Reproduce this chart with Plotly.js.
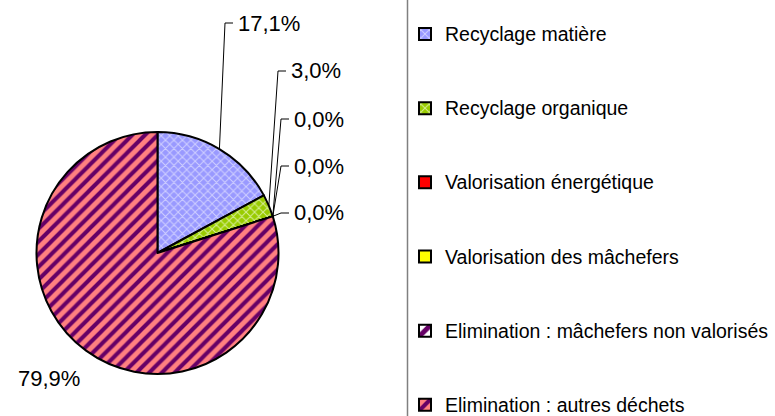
<!DOCTYPE html>
<html><head><meta charset="utf-8">
<script src="https://cdn.plot.ly/plotly-3.0.1.min.js"></script>
<style>html,body{margin:0;padding:0;background:#fff;} #chart{width:775px;height:416px;}</style>
</head><body><div id="chart"></div>
<script>
// ---- data ----
const categories = ['Recyclage matière', 'Recyclage organique', 'Valorisation énergétique',
  'Valorisation des mâchefers', 'Elimination : mâchefers non valorisés', 'Elimination : autres déchets'];
const shares = [17.1, 3.0, 0.0, 0.0, 0.0, 79.9];

// ---- styles ----
const sliceColors = ['#9999FF', '#99CC00', '#FF0000', '#FFFF00', '#FFFFFF', '#FF8080'];
const patternShapes = ['x', 'x', '', '', '/', '/'];
const patternFg = ['#D0D0FF', '#D8EE99', '#FF0000', '#FFFF00', '#660066', '#660066'];
const patternSize = [6, 6, 8, 8, 10, 9];
const patternSolidity = [0.3, 0.3, 0.3, 0.3, 0.5, 0.45];

// ---- layout geometry (px) ----
const W = 775, H = 416;
const pieGeom = {cx: 157.5, cy: 253, r: 121};
const labelPos = [[236, 23], [289, 71], [292, 119], [292, 166], [292, 213], [16, 378]];
const hasLeader = [true, true, true, true, true, false];
const legendLeft = 405, legendTop = 15.6;
const labelFont = 'Liberation Sans, Arial, sans-serif';
const legendFont = 'Liberation Sans, Arial, sans-serif';

const px = x => x / W;
const py = y => 1 - y / H;
const total = shares.reduce((a, b) => a + b, 0);
const fmt = v => (v / total * 100).toFixed(1).replace('.', ',') + '%';

// legend labels: extra empty lines give the tall legend spacing
const legendLabels = categories.map((c, i) =>
  '<span style="font-size:19.5px">' + c + '</span>' + (i < categories.length - 1 ? '<br><br>' : ''));

// label annotations and leader lines
const annotations = [];
const shapes = [];
let cum = 0;
shares.forEach((v, i) => {
  const mid = (cum + v / 2) / total * 2 * Math.PI;
  cum += v;
  const ex = pieGeom.cx + pieGeom.r * Math.sin(mid);
  const ey = pieGeom.cy - pieGeom.r * Math.cos(mid);
  const [lx, ly] = labelPos[i];
  annotations.push({
    xref: 'paper', yref: 'paper', x: px(lx), y: py(ly), xanchor: 'left', yanchor: 'middle',
    text: fmt(v), showarrow: false, font: {family: labelFont, size: 22, color: '#000'}
  });
  if (hasLeader[i]) {
    const kx = lx - 11, kx2 = lx - 3;
    shapes.push({
      type: 'path', xref: 'paper', yref: 'paper',
      path: `M${px(ex)},${py(ey)} L${px(kx)},${py(ly)} L${px(kx2)},${py(ly)}`,
      line: {color: '#000', width: 1}
    });
  }
});
// legend box left border
shapes.push({type: 'line', xref: 'paper', yref: 'paper', x0: px(407.5), x1: px(407.5), y0: 0, y1: 1,
  line: {color: '#808080', width: 1.5}});

const trace = {
  type: 'pie',
  labels: legendLabels,
  values: shares,
  sort: false,
  direction: 'clockwise',
  rotation: 0,
  textinfo: 'none',
  hoverinfo: 'label+percent',
  marker: {
    colors: sliceColors,
    line: {color: '#000000', width: 2},
    pattern: {shape: patternShapes, fgcolor: patternFg, bgcolor: sliceColors,
      size: patternSize, solidity: patternSolidity}
  },
  domain: {
    x: [px(pieGeom.cx - pieGeom.r), px(pieGeom.cx + pieGeom.r)],
    y: [py(pieGeom.cy + pieGeom.r), py(pieGeom.cy - pieGeom.r)]
  }
};

const layout = {
  width: W, height: H,
  margin: {l: 0, r: 0, t: 0, b: 0, autoexpand: false},
  paper_bgcolor: '#ffffff',
  separators: ', ',
  showlegend: true,
  legend: {
    x: px(legendLeft), xanchor: 'left', y: py(legendTop), yanchor: 'top',
    valign: 'top', bgcolor: 'rgba(0,0,0,0)', borderwidth: 0,
    font: {family: legendFont, size: 18.25, color: '#000'}
  },
  annotations: annotations,
  shapes: shapes
};

Plotly.newPlot('chart', [trace], layout, {staticPlot: true});
</script>
</body></html>
